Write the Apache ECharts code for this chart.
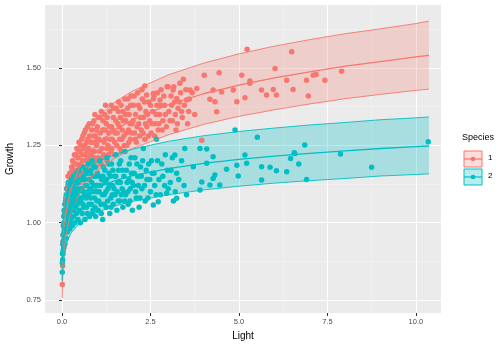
<!DOCTYPE html>
<html>
<head>
<meta charset="utf-8">
<script src="https://cdn.jsdelivr.net/npm/echarts@6/dist/echarts.min.js"></script>
<style>
  html, body { margin: 0; padding: 0; background: #fff; }
  #chart { width: 504px; height: 346px; }
</style>
</head>
<body>
<div id="chart"></div>
<script>
// fitted curves
var curveX = [0.007, 0.01, 0.03, 0.1, 0.25, 0.5, 0.75, 1, 1.5, 2, 3, 4, 5, 6, 7, 8, 9, 10, 10.37];
var redMean = [0.813, 0.836, 0.921, 1.024, 1.110, 1.180, 1.223, 1.254, 1.300, 1.333, 1.381, 1.417, 1.445, 1.468, 1.488, 1.506, 1.521, 1.536, 1.541];
var redLower = [0.756, 0.777, 0.857, 0.952, 1.032, 1.097, 1.137, 1.166, 1.209, 1.240, 1.284, 1.318, 1.344, 1.365, 1.384, 1.401, 1.415, 1.428, 1.432];
var redUpper = [0.870, 0.895, 0.985, 1.096, 1.188, 1.263, 1.309, 1.342, 1.391, 1.426, 1.478, 1.516, 1.546, 1.571, 1.592, 1.611, 1.627, 1.644, 1.652];
var tealMean = [0.875, 0.891, 0.939, 0.996, 1.041, 1.077, 1.098, 1.114, 1.136, 1.152, 1.175, 1.192, 1.205, 1.215, 1.224, 1.232, 1.240, 1.246, 1.248];
var tealLower = [0.812, 0.827, 0.871, 0.924, 0.966, 0.999, 1.019, 1.034, 1.054, 1.069, 1.090, 1.106, 1.118, 1.128, 1.136, 1.143, 1.151, 1.156, 1.158];
var tealUpper = [0.941, 0.958, 1.009, 1.071, 1.119, 1.158, 1.180, 1.198, 1.221, 1.238, 1.263, 1.281, 1.295, 1.306, 1.316, 1.324, 1.333, 1.339, 1.342];

// species 1 observations
var redPoints = [
  [0.01,0.80],[0.02,0.86],[0.03,0.90],[0.03,0.94],[0.04,0.96],[0.05,0.92],[0.05,1.00],[0.06,0.98],[0.07,1.03],[0.08,0.99],[0.09,1.06],[0.1,1.02],[0.1,1.08],
  [0.12,1.05],[0.13,1.11],[0.15,1.04],[0.16,1.09],[0.18,1.13],[0.2,1.06],[0.2,1.12],[0.22,1.16],[0.24,1.09],[0.25,1.14],[0.27,1.18],[0.28,1.11],[0.3,1.15],[0.3,1.20],
  [0.32,1.08],[0.34,1.13],[0.35,1.22],[0.37,1.17],[0.4,1.12],[0.4,1.19],[0.42,1.24],[0.45,1.15],[0.46,1.21],[0.48,1.26],[0.5,1.13],[0.5,1.18],[0.52,1.23],[0.55,1.16],[0.56,1.27],[0.58,1.20],[0.6,1.24],
  [0.62,1.14],[0.63,1.29],[0.65,1.18],[0.67,1.22],[0.7,1.26],[0.7,1.16],[0.72,1.31],[0.75,1.20],[0.76,1.24],[0.78,1.28],[0.8,1.17],[0.82,1.22],[0.84,1.30],[0.85,1.26],[0.88,1.19],[0.9,1.33],[0.92,1.23],[0.94,1.28],[0.96,1.18],[0.98,1.25],
  [1.0,1.31],[1.02,1.21],[1.05,1.27],[1.07,1.34],[1.1,1.19],[1.12,1.24],[1.15,1.30],[1.18,1.22],[1.2,1.35],[1.22,1.27],[1.25,1.32],[1.27,1.20],[1.3,1.25],[1.32,1.29],[1.35,1.36],[1.38,1.23],[1.4,1.31],[1.42,1.27],[1.45,1.34],[1.48,1.22],
  [1.5,1.29],[1.53,1.37],[1.55,1.25],[1.58,1.32],[1.6,1.39],[1.63,1.27],[1.65,1.34],[1.68,1.23],[1.7,1.30],[1.72,1.36],[1.75,1.28],[1.78,1.40],[1.8,1.33],[1.83,1.25],[1.85,1.37],[1.88,1.30],[1.9,1.35],[1.93,1.27],[1.95,1.41],[1.98,1.32],
  [2.02,1.38],[2.05,1.29],[2.08,1.35],[2.1,1.26],[2.14,1.42],[2.17,1.32],[2.2,1.37],[2.24,1.30],[2.27,1.40],[2.3,1.34],[2.34,1.27],[2.37,1.36],[2.4,1.31],[2.45,1.39],[2.48,1.33],
  [2.52,1.29],[2.56,1.36],[2.6,1.41],[2.64,1.32],[2.68,1.38],[2.72,1.30],[2.76,1.35],[2.8,1.43],[2.85,1.33],[2.9,1.38],[2.95,1.31],
  [3.02,1.36],[3.08,1.41],[3.12,1.33],[3.18,1.39],[3.22,1.30],[3.28,1.37],[3.35,1.42],[3.4,1.34],[3.46,1.38],[3.55,1.32],[3.6,1.40],[3.75,1.35],
  [0.11,1.00],[0.14,1.07],[0.17,1.15],[0.19,1.10],[0.21,1.09],[0.23,1.13],[0.26,1.07],[0.26,1.16],[0.29,1.13],[0.31,1.17],[0.33,1.10],[0.36,1.19],[0.38,1.14],[0.39,1.22],[0.43,1.17],[0.44,1.21],[0.47,1.13],[0.49,1.23],
  [0.53,1.19],[0.54,1.25],[0.57,1.22],[0.59,1.28],[0.61,1.18],[0.64,1.25],[0.66,1.30],[0.68,1.20],[0.71,1.23],[0.73,1.27],[0.74,1.17],[0.77,1.32],[0.79,1.21],[0.81,1.26],[0.83,1.19],[0.86,1.32],[0.87,1.23],[0.89,1.28],[0.91,1.21],[0.93,1.35],[0.95,1.26],[0.97,1.30],[0.99,1.20],
  [1.01,1.27],[1.03,1.34],[1.06,1.23],[1.08,1.29],[1.11,1.36],[1.13,1.21],[1.16,1.33],[1.19,1.26],[1.21,1.30],[1.23,1.38],[1.26,1.24],[1.28,1.34],[1.31,1.22],[1.34,1.31],[1.36,1.27],[1.39,1.38],[1.41,1.24],[1.44,1.30],[1.46,1.37],[1.49,1.26],
  [1.52,1.33],[1.56,1.29],[1.59,1.36],[1.62,1.31],[1.64,1.24],[1.67,1.38],[1.69,1.27],[1.73,1.33],[1.76,1.25],[1.79,1.35],[1.82,1.29],[1.86,1.40],[1.89,1.26],[1.92,1.32],[1.94,1.38],[1.97,1.29],
  [2.01,1.33],[2.04,1.41],[2.07,1.27],[2.12,1.31],[2.16,1.38],[2.19,1.28],[2.22,1.34],[2.26,1.43],[2.29,1.29],[2.33,1.39],[2.36,1.32],[2.42,1.35],[2.44,1.28],[2.5,1.38],[2.54,1.32],[2.58,1.40],[2.62,1.28],[2.66,1.35],
  [2.7,1.42],[2.74,1.32],[2.78,1.38],[2.83,1.30],[2.88,1.41],[2.92,1.35],[2.97,1.44],[3.05,1.33],[3.1,1.38],[3.16,1.44],[3.2,1.35],[3.26,1.32],[3.32,1.39],[3.38,1.36],[3.5,1.43],[3.58,1.36],[3.68,1.42],
  [2.34,1.442],[2.39,1.413],[2.58,1.418],[2.77,1.397],[3.00,1.440],[3.14,1.429],[3.24,1.402],[3.33,1.451],[3.43,1.464],[3.52,1.397],[3.62,1.429],[3.81,1.434],
  [3.95,1.267],[4.02,1.477],[4.18,1.399],[4.27,1.429],[4.32,1.391],[4.37,1.359],[4.44,1.485],[4.51,1.423],[4.84,1.429],[4.94,1.391],[5.08,1.477],[5.17,1.404],
  [5.23,1.561],[5.31,1.458],[5.31,1.451],[5.64,1.429],[5.78,1.413],[5.97,1.431],[6.02,1.499],[6.06,1.413],[6.35,1.461],[6.49,1.553],[6.53,1.431],[6.91,1.461],
  [6.96,1.410],[7.10,1.477],[7.18,1.479],[7.43,1.461],[7.90,1.490]
];

// species 2 observations
var tealPoints = [
  [0.008,0.84],[0.01,0.87],[0.015,0.90],[0.02,0.88],[0.02,0.93],[0.03,0.91],[0.03,0.96],[0.04,0.94],[0.04,0.99],[0.05,0.92],[0.05,1.02],[0.06,0.97],[0.06,1.04],[0.07,0.95],[0.07,1.00],[0.08,1.06],[0.08,0.93],[0.09,1.02],[0.1,0.98],[0.1,1.07],
  [0.11,0.95],[0.12,1.03],[0.12,1.09],[0.13,1.00],[0.14,1.11],[0.15,0.97],[0.15,1.05],[0.16,1.08],[0.17,1.01],[0.18,1.13],[0.19,0.99],[0.2,1.06],[0.2,1.10],[0.21,1.03],[0.22,0.98],[0.23,1.12],[0.24,1.07],[0.25,1.01],[0.26,1.14],[0.27,1.04],[0.28,1.09],[0.29,0.99],[0.3,1.06],[0.3,1.12],
  [0.32,1.02],[0.33,1.15],[0.34,1.08],[0.36,1.00],[0.37,1.11],[0.38,1.05],[0.4,1.16],[0.41,1.03],[0.42,1.09],[0.44,1.13],[0.45,1.01],[0.47,1.07],[0.48,1.17],[0.5,1.04],[0.5,1.11],[0.52,1.00],[0.54,1.14],[0.55,1.08],[0.57,1.03],[0.58,1.18],[0.6,1.10],
  [0.62,1.05],[0.63,1.14],[0.65,1.01],[0.67,1.17],[0.68,1.08],[0.7,1.12],[0.72,1.03],[0.74,1.19],[0.75,1.09],[0.77,1.14],[0.78,1.02],[0.8,1.11],[0.82,1.17],[0.83,1.06],[0.85,1.20],[0.87,1.10],[0.88,1.04],[0.9,1.15],[0.92,1.08],[0.94,1.18],[0.95,1.02],[0.97,1.12],[0.99,1.07],
  [1.0,1.16],[1.02,1.04],[1.05,1.10],[1.07,1.20],[1.1,1.06],[1.12,1.14],[1.15,1.01],[1.17,1.18],[1.2,1.09],[1.22,1.13],[1.25,1.05],[1.27,1.21],[1.3,1.11],[1.33,1.16],[1.35,1.03],[1.38,1.08],[1.4,1.19],[1.43,1.12],[1.45,1.06],[1.48,1.15],
  [1.5,1.09],[1.53,1.22],[1.55,1.04],[1.58,1.13],[1.6,1.17],[1.63,1.07],[1.66,1.20],[1.7,1.11],[1.72,1.05],[1.75,1.15],[1.78,1.23],[1.8,1.09],[1.84,1.13],[1.87,1.06],[1.9,1.19],[1.93,1.11],[1.96,1.16],[1.99,1.04],
  [2.02,1.12],[2.06,1.21],[2.1,1.08],[2.14,1.15],[2.18,1.05],[2.22,1.18],[2.26,1.11],[2.3,1.24],[2.35,1.07],[2.4,1.14],[2.45,1.19],[2.5,1.10],[2.55,1.16],
  [2.62,1.12],[2.7,1.20],[2.78,1.09],[2.85,1.15],[2.92,1.22],[3.0,1.11],[3.08,1.17],[3.15,1.07],[3.3,1.14],[3.38,1.20],[3.45,1.12],
  [0.11,1.04],[0.13,1.06],[0.14,0.98],[0.16,1.02],[0.17,1.12],[0.18,1.05],[0.19,1.08],[0.21,1.13],[0.22,1.05],[0.24,1.00],[0.25,1.10],[0.27,1.09],[0.28,1.02],[0.31,1.09],[0.33,1.04],[0.35,1.13],[0.36,1.07],[0.39,1.10],[0.41,1.13],[0.43,1.06],[0.46,1.10],[0.49,1.08],
  [0.51,1.14],[0.53,1.07],[0.56,1.11],[0.59,1.06],[0.61,1.15],[0.64,1.09],[0.66,1.12],[0.69,1.05],[0.71,1.16],[0.73,1.10],[0.76,1.06],[0.79,1.16],[0.81,1.08],[0.84,1.13],[0.86,1.03],[0.89,1.12],[0.91,1.18],[0.93,1.05],[0.96,1.15],[0.98,1.10],
  [1.01,1.12],[1.04,1.07],[1.06,1.15],[1.09,1.12],[1.11,1.03],[1.14,1.09],[1.16,1.15],[1.19,1.06],[1.21,1.17],[1.24,1.10],[1.26,1.14],[1.29,1.07],[1.32,1.19],[1.34,1.12],[1.37,1.15],[1.39,1.05],[1.42,1.09],[1.44,1.17],[1.47,1.11],
  [1.52,1.15],[1.56,1.10],[1.59,1.07],[1.62,1.19],[1.65,1.13],[1.68,1.09],[1.71,1.17],[1.74,1.10],[1.77,1.07],[1.82,1.17],[1.86,1.10],[1.89,1.14],[1.92,1.07],[1.95,1.21],[1.98,1.13],
  [2.04,1.16],[2.08,1.10],[2.12,1.19],[2.16,1.12],[2.2,1.08],[2.24,1.15],[2.28,1.20],[2.33,1.12],[2.38,1.17],[2.43,1.08],[2.48,1.14],[2.53,1.20],[2.6,1.16],[2.66,1.09],[2.74,1.14],[2.82,1.19],[2.9,1.12],[2.98,1.17],[3.06,1.13],[3.12,1.21],[3.2,1.10],
  [2.58,1.057],[2.67,1.270],[2.72,1.068],[2.96,1.095],[3.19,1.219],[3.24,1.079],[3.24,1.160],[3.47,1.240],[3.52,1.090],[3.71,1.181],[3.90,1.106],[3.90,1.240],
  [3.95,1.132],[4.09,1.192],[4.09,1.238],[4.18,1.122],[4.27,1.143],[4.27,1.213],[4.32,1.154],[4.46,1.122],[4.65,1.173],[4.89,1.300],[4.94,1.186],[4.98,1.151],
  [5.17,1.219],[5.22,1.192],[5.52,1.276],[5.64,1.181],[5.64,1.138],[5.88,1.179],[6.06,1.168],[6.35,1.165],[6.46,1.208],[6.56,1.226],[6.58,1.224],[6.69,1.190],
  [6.86,1.251],[6.91,1.140],[7.87,1.222],[8.75,1.179],[10.35,1.262]
];

var xTicks = [0, 2.5, 5, 7.5, 10];
var xMinor = [1.25, 3.75, 6.25, 8.75];
var yTicks = [0.75, 1.00, 1.25, 1.50];
var yMinor = [0.875, 1.125, 1.375, 1.625];

var RED = '#F8766D';
var TEAL = '#00BFC4';
var RED_FILL = 'rgba(248,118,109,0.25)';
var TEAL_FILL = 'rgba(0,191,196,0.28)';
var FONT = 'Liberation Sans, Arial, sans-serif';

function pairs(xs, ys) {
  var out = [];
  for (var i = 0; i < xs.length; i++) out.push([xs[i], ys[i]]);
  return out;
}

// ribbon between lower and upper curve
function bandSeries(lo, hi, fill) {
  return {
    type: 'custom',
    xAxisIndex: 0, yAxisIndex: 0,
    data: [[curveX[0], lo[0]]],
    silent: true,
    clip: true,
    z: 1,
    renderItem: function (params, api) {
      var pts = [];
      for (var i = 0; i < curveX.length; i++) pts.push(api.coord([curveX[i], hi[i]]));
      for (var j = curveX.length - 1; j >= 0; j--) pts.push(api.coord([curveX[j], lo[j]]));
      return { type: 'polygon', shape: { points: pts }, style: { fill: fill } };
    }
  };
}

function lineSeries(ys, color, width) {
  return {
    type: 'line',
    xAxisIndex: 0, yAxisIndex: 0,
    data: pairs(curveX, ys),
    showSymbol: false,
    silent: true,
    z: 5,
    lineStyle: { color: color, width: width }
  };
}

function pointSeries(data, color, z) {
  return {
    type: 'scatter',
    xAxisIndex: 0, yAxisIndex: 0,
    data: data,
    symbolSize: 5.5,
    silent: true,
    z: z,
    itemStyle: { color: color, opacity: 1 }
  };
}

var myChart = echarts.init(document.getElementById('chart'));

var option = {
  animation: false,
  backgroundColor: '#fff',
  grid: {
    left: 45, right: 63, top: 5, bottom: 33,
    show: true, backgroundColor: '#EBEBEB', borderWidth: 0,
    outerBoundsMode: 'none'
  },
  xAxis: [{
    type: 'value', min: -0.48, max: 10.71,
    name: 'Light', nameLocation: 'middle', nameGap: 17,
    nameTextStyle: { fontFamily: FONT, fontSize: 10, color: '#000' },
    axisLine: { show: false },
    axisTick: { show: true, length: 3, customValues: xTicks, lineStyle: { color: '#333', width: 1 } },
    axisLabel: { customValues: xTicks, margin: 5, fontFamily: FONT, fontSize: 7.5, color: '#4D4D4D',
      formatter: function (v) { return v.toFixed(1); } },
    splitLine: { show: true, lineStyle: { color: '#fff', width: 1.1 } }
  }, {
    // minor grid
    type: 'value', min: -0.48, max: 10.71, position: 'bottom',
    axisLine: { show: false },
    axisTick: { show: false, customValues: xMinor },
    axisLabel: { show: false, customValues: xMinor },
    splitLine: { show: true, lineStyle: { color: '#F5F5F5', width: 0.6 } }
  }],
  yAxis: [{
    type: 'value', min: 0.708, max: 1.704,
    name: 'Growth', nameLocation: 'middle', nameGap: 28,
    nameTextStyle: { fontFamily: FONT, fontSize: 10, color: '#000' },
    axisLine: { show: false },
    axisTick: { show: true, length: 3, customValues: yTicks, lineStyle: { color: '#333', width: 1 } },
    axisLabel: { customValues: yTicks, margin: 4, fontFamily: FONT, fontSize: 7.5, color: '#4D4D4D',
      formatter: function (v) { return v.toFixed(2); } },
    splitLine: { show: true, lineStyle: { color: '#fff', width: 1.1 } }
  }, {
    type: 'value', min: 0.708, max: 1.704, position: 'left',
    axisLine: { show: false },
    axisTick: { show: false, customValues: yMinor },
    axisLabel: { show: false, customValues: yMinor },
    splitLine: { show: true, lineStyle: { color: '#F5F5F5', width: 0.6 } }
  }],
  series: [
    pointSeries(redPoints, RED, 2),
    pointSeries(tealPoints, TEAL, 3),
    bandSeries(redLower, redUpper, RED_FILL),
    bandSeries(tealLower, tealUpper, TEAL_FILL),
    lineSeries(redLower, RED, 0.9),
    lineSeries(redUpper, RED, 0.9),
    lineSeries(redMean, RED, 1.3),
    lineSeries(tealLower, TEAL, 0.9),
    lineSeries(tealUpper, TEAL, 0.9),
    lineSeries(tealMean, TEAL, 1.3)
  ],
  graphic: [
    { type: 'text', left: 462, top: 133, style: { text: 'Species', font: '9px ' + FONT, fill: '#000' } },
    { type: 'rect', shape: { x: 464, y: 151, width: 18, height: 16 }, style: { fill: RED_FILL, stroke: RED, lineWidth: 1 } },
    { type: 'line', shape: { x1: 464, y1: 159, x2: 482, y2: 159 }, style: { stroke: RED, lineWidth: 1.2 } },
    { type: 'circle', shape: { cx: 473, cy: 159, r: 2.3 }, style: { fill: RED } },
    { type: 'text', left: 488, top: 154, style: { text: '1', font: '8px ' + FONT, fill: '#000' } },
    { type: 'rect', shape: { x: 464, y: 169, width: 18, height: 16 }, style: { fill: TEAL_FILL, stroke: TEAL, lineWidth: 1 } },
    { type: 'line', shape: { x1: 464, y1: 177, x2: 482, y2: 177 }, style: { stroke: TEAL, lineWidth: 1.2 } },
    { type: 'circle', shape: { cx: 473, cy: 177, r: 2.3 }, style: { fill: TEAL } },
    { type: 'text', left: 488, top: 172, style: { text: '2', font: '8px ' + FONT, fill: '#000' } }
  ]
};

myChart.setOption(option);

window.addEventListener('resize', function () {
  myChart.resize();
});
</script>
</body>
</html>
